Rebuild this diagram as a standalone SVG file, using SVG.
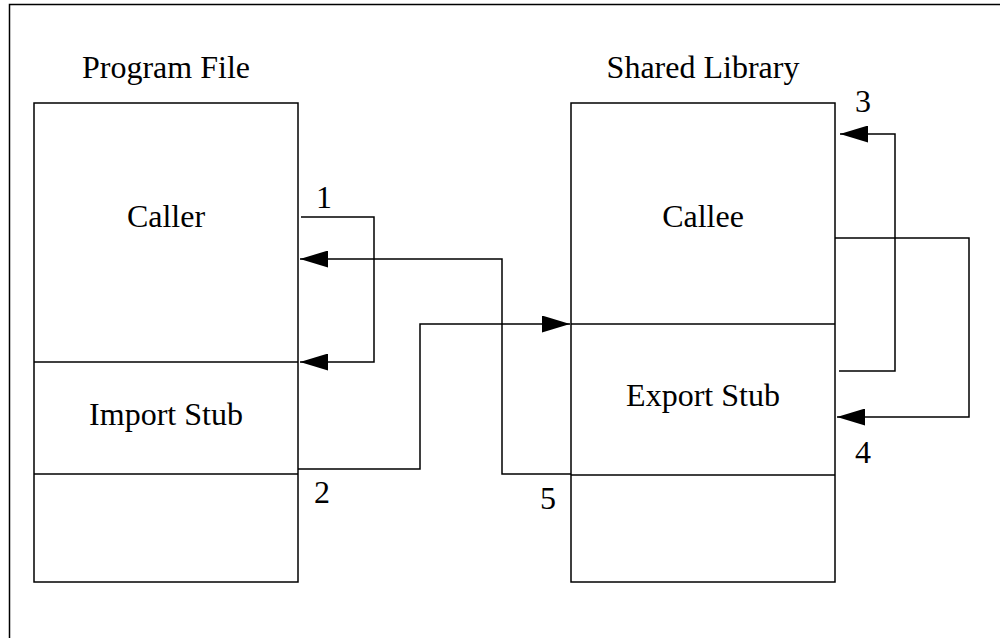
<svg xmlns="http://www.w3.org/2000/svg" width="1000" height="638" viewBox="0 0 1000 638">
<defs>
<style>
.box{fill:#fff;stroke:#000;stroke-width:1.5}
.ln{fill:none;stroke:#000;stroke-width:1.5}
.t{font-family:"Liberation Serif","Times New Roman",serif;font-size:32px;fill:#000}
.c{text-anchor:middle}
</style>
<marker id="arr" viewBox="0 0 28 17" refX="28" refY="8.5" markerWidth="28" markerHeight="17" markerUnits="userSpaceOnUse" orient="auto">
<path d="M0,0 L28,8.5 L0,17 Z" fill="#000"/>
</marker>
</defs>
<rect x="0" y="0" width="1000" height="638" fill="#fff"/>
<rect x="9.5" y="4.5" width="1000" height="700" fill="none" stroke="#000" stroke-width="1.5"/>
<g id="program-file">
<text class="t c" x="166" y="78">Program File</text>
<rect class="box" x="34" y="103" width="264" height="479"/>
<line class="ln" x1="34" y1="362" x2="298" y2="362"/>
<line class="ln" x1="34" y1="474" x2="298" y2="474"/>
<text class="t c" x="166" y="227">Caller</text>
<text class="t c" x="166" y="425">Import Stub</text>
</g>
<g id="shared-library">
<text class="t c" x="703" y="78">Shared Library</text>
<rect class="box" x="571" y="103" width="264" height="479"/>
<line class="ln" x1="571" y1="324" x2="835" y2="324"/>
<line class="ln" x1="571" y1="475" x2="835" y2="475"/>
<text class="t c" x="703" y="227">Callee</text>
<text class="t c" x="703" y="406">Export Stub</text>
</g>
<g id="connectors">
<polyline class="ln" points="301,217 374,217 374,362 300,362" marker-end="url(#arr)"/>
<polyline class="ln" points="298,469 420,469 420,324 570,324" marker-end="url(#arr)"/>
<polyline class="ln" points="839,371 895,371 895,134 840,134" marker-end="url(#arr)"/>
<polyline class="ln" points="835,238 969,238 969,417 837,417" marker-end="url(#arr)"/>
<polyline class="ln" points="571,474 502,474 502,259 300,259" marker-end="url(#arr)"/>
</g>
<g id="labels">
<text class="t" x="316" y="208">1</text>
<text class="t" x="314" y="503">2</text>
<text class="t" x="855" y="112">3</text>
<text class="t" x="855" y="463">4</text>
<text class="t" x="540" y="509">5</text>
</g>
</svg>
